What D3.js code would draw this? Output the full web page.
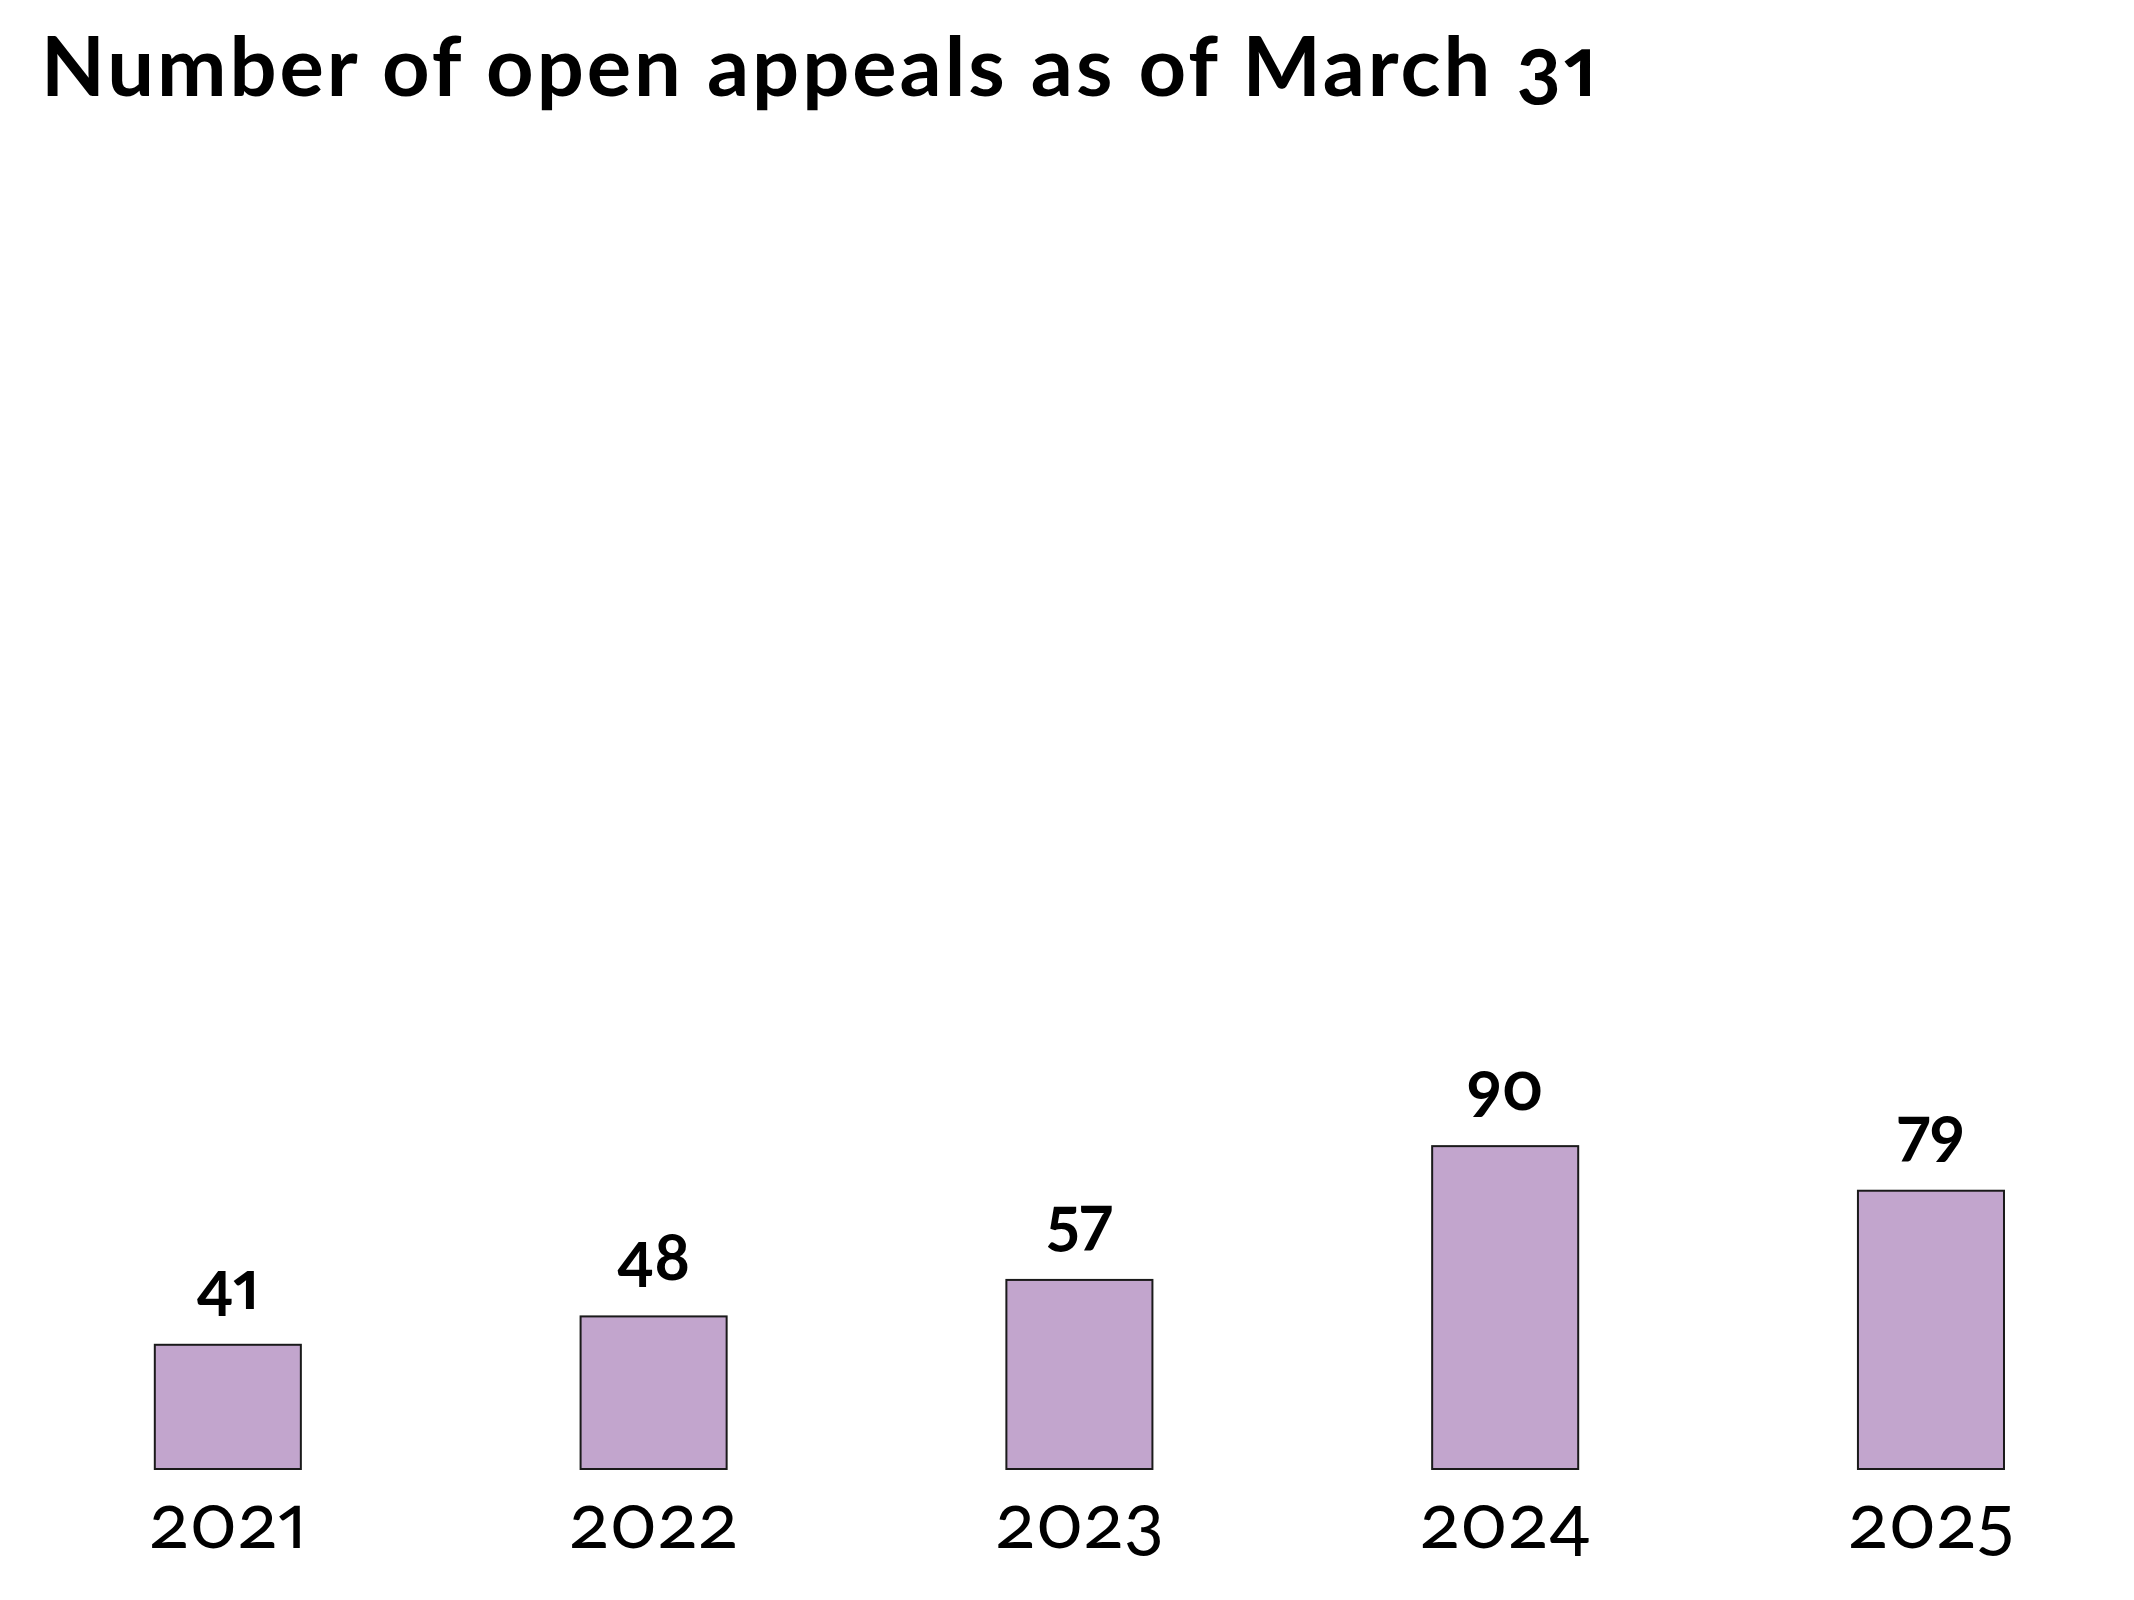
<!DOCTYPE html>
<html>
<head>
<meta charset="utf-8">
<script src="https://cdn.jsdelivr.net/npm/d3@7"></script>
<style>
  html, body { margin: 0; padding: 0; background: #ffffff; overflow: hidden; }
  svg { display: block; }
  text { font-family: Lato, "Open Sans", sans-serif; font-variant-numeric: oldstyle-nums proportional-nums; }
</style>
</head>
<body>
<svg id="chart"></svg>
<script>
const title = "Number of open appeals as of March 31";
const years = ["2021", "2022", "2023", "2024", "2025"];
const openAppeals = [41, 48, 57, 90, 79];

const W = 2134, H = 1600;
const svg = d3.select("#chart").attr("width", W).attr("height", H);

const baseY = 1469;
const x = d3.scaleBand()
  .domain(years)
  .range([14.3, 2144.5])
  .paddingInner(0.657)
  .paddingOuter(0.33);

const y = d3.scaleLinear()
  .domain([10.36, 100])
  .range([baseY, 1105.6]);

// title
const t = svg.append("text")
  .attr("x", 41)
  .attr("y", 96)
  .attr("font-size", 83)
  .attr("font-weight", 700)
  .attr("fill", "#000")
  .text(title);
const tl = t.node().getComputedTextLength();
t.attr("letter-spacing", ((1556 - tl) / (title.length - 1)).toFixed(2));

// bars
const data = years.map((yr, i) => ({ year: yr, value: openAppeals[i] }));

svg.append("g").selectAll("rect")
  .data(data)
  .join("rect")
  .attr("x", d => x(d.year))
  .attr("y", d => y(d.value))
  .attr("width", x.bandwidth())
  .attr("height", d => baseY - y(d.value))
  .attr("fill", "#c2a5cd")
  .attr("stroke", "#1a1a1a")
  .attr("stroke-width", 2);

// value labels
svg.append("g").selectAll("text")
  .data(data)
  .join("text")
  .attr("x", d => x(d.year) + x.bandwidth() / 2)
  .attr("y", d => y(d.value) - 36)
  .attr("text-anchor", "middle")
  .attr("font-size", 66)
  .attr("font-weight", 700)
  .attr("fill", "#000")
  .text(d => d.value);

// x axis labels (no axis line)
const xAxis = d3.axisBottom(x).tickSize(0).tickPadding(0);
const gx = svg.append("g")
  .attr("transform", `translate(0,${baseY})`)
  .call(xAxis);
gx.select(".domain").remove();
gx.selectAll("text")
  .attr("dy", null)
  .attr("y", 79)
  .attr("font-family", "Lato, sans-serif")
  .attr("font-size", 75)
  .attr("font-weight", 400)
  .attr("fill", "#000");
</script>
</body>
</html>
